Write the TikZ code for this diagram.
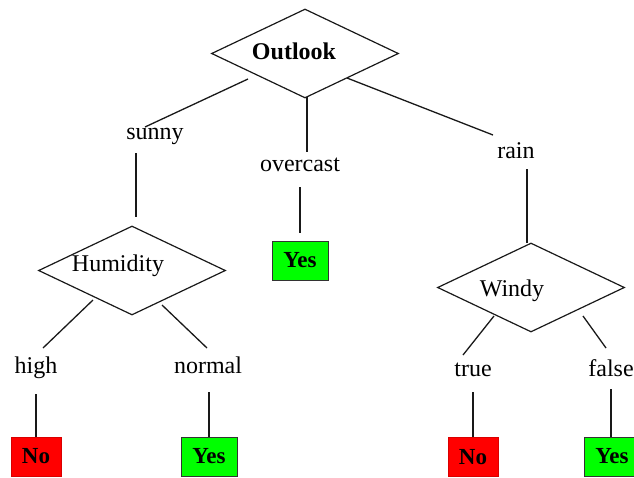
\documentclass[tikz,border=0pt]{standalone}
\usepackage{fontspec}
\setmainfont{Liberation Serif}
\usetikzlibrary{shapes.geometric}
\definecolor{leafgreen}{RGB}{0,255,0}
\definecolor{leafred}{RGB}{255,0,0}
\begin{document}
\begin{tikzpicture}[x=1pt,y=-1pt,
  edge/.style={line width=1.3pt,black!90},
  test/.style={shape=diamond,draw=black!90,line width=1.2pt,minimum width=187pt,minimum height=89pt,inner sep=0pt,aspect=2.1},
  lbl/.style={inner sep=0pt,font=\fontsize{24}{28}\selectfont},
  yesleaf/.style={draw=black!80,line width=1pt,fill=leafgreen,minimum width=56pt,minimum height=39pt,inner sep=0pt,font=\bfseries\fontsize{23}{27}\selectfont},
  noleaf/.style={draw=leafred!85!black,line width=0.8pt,fill=leafred,minimum width=50pt,minimum height=39pt,inner sep=0pt,font=\bfseries\fontsize{23}{27}\selectfont}]
\useasboundingbox (0,0) rectangle (634,477);

% decision nodes
\node[test] (outlook) at (305,53.5) {};
\node[lbl,font=\bfseries\fontsize{24}{28}\selectfont] (outlooktxt) at (294,51) {Outlook};
\node[test] (humidity) at (132,270.5) {};
\node[lbl] (humiditytxt) at (118,266) {Humidity};
\node[test] (windy) at (531,287.5) {};
\node[lbl] (windytxt) at (512,291) {Windy};

% branch labels
\node[lbl] (sunny) at (155,136) {sunny};
\node[lbl] (overcast) at (300,165) {overcast};
\node[lbl] (rain) at (516,151) {rain};
\node[lbl] (high) at (36,368) {high};
\node[lbl] (normal) at (208,365.5) {normal};
\node[lbl] (true) at (473,370) {true};
\node[lbl] (false) at (611,368) {false};

% leaves
\node[yesleaf] (yes1) at (300,260.5) {Yes};
\node[noleaf] (no1) at (36,456.5) {No};
\node[yesleaf] (yes2) at (209,456.5) {Yes};
\node[noleaf] (no2) at (473,457) {No};
\node[yesleaf] (yes3) at (612,456.5) {Yes};

% connector end points
\coordinate (s1) at (248,79);
\coordinate (s2) at (145,127);
\coordinate (s3) at (136,153);
\coordinate (s4) at (136,217);
\coordinate (o1) at (307,97);
\coordinate (o2) at (307,152);
\coordinate (o3) at (300,187);
\coordinate (o4) at (300,233);
\coordinate (r1) at (347,78);
\coordinate (r2) at (493,135);
\coordinate (r3) at (527,169);
\coordinate (r4) at (527,243);
\coordinate (h1) at (93,300);
\coordinate (h2) at (43,348);
\coordinate (h3) at (36,394);
\coordinate (n1) at (162,305);
\coordinate (n2) at (207,348);
\coordinate (n3) at (209,392);
\coordinate (t1) at (494,316);
\coordinate (t2) at (463,355);
\coordinate (t3) at (473,392);
\coordinate (f1) at (583,316);
\coordinate (f2) at (606,348);
\coordinate (f3) at (611,389);

% connectors
\draw[edge] (s1) -- (s2);
\draw[edge] (s3) -- (s4);
\draw[edge] (o1) -- (o2);
\draw[edge] (o3) -- (o4);
\draw[edge] (r1) -- (r2);
\draw[edge] (r3) -- (r4);
\draw[edge] (h1) -- (h2);
\draw[edge] (h3) -- (h3 |- no1.north);
\draw[edge] (n1) -- (n2);
\draw[edge] (n3) -- (n3 |- yes2.north);
\draw[edge] (t1) -- (t2);
\draw[edge] (t3) -- (t3 |- no2.north);
\draw[edge] (f1) -- (f2);
\draw[edge] (f3) -- (f3 |- yes3.north);
\end{tikzpicture}
\end{document}
